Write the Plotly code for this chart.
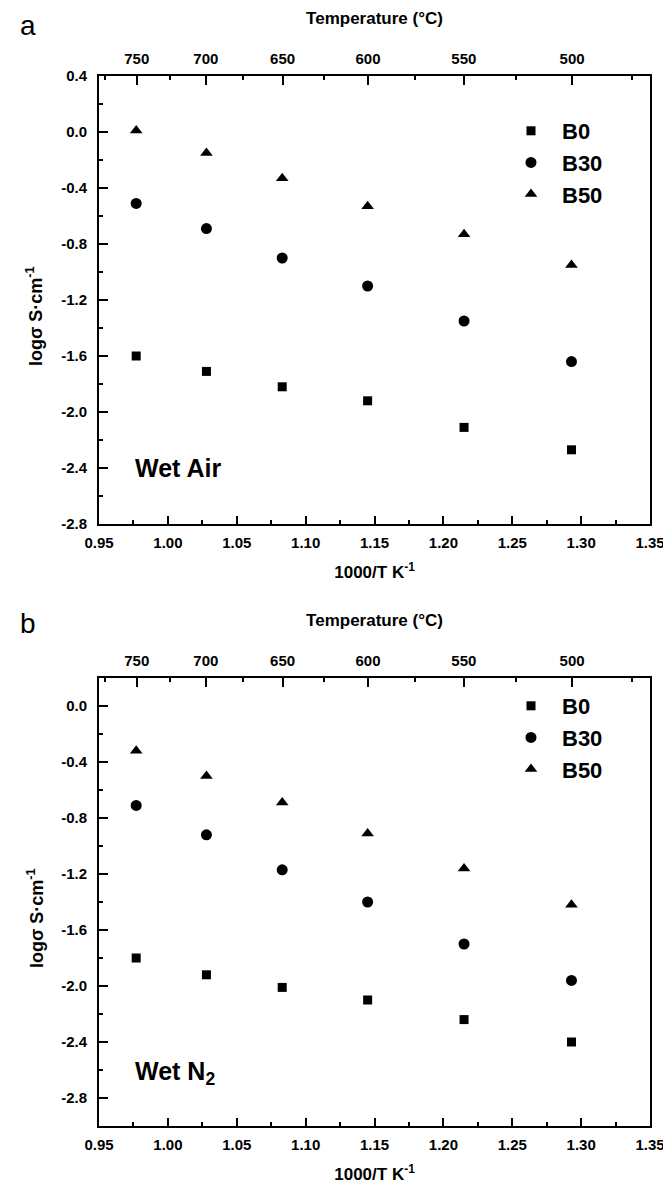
import plotly.graph_objects as go

# ---------------- data ----------------
inv_T = [0.977, 1.028, 1.083, 1.145, 1.215, 1.293]  # 1000/T (K^-1)

air_B0 = [-1.60, -1.71, -1.82, -1.92, -2.11, -2.27]
air_B30 = [-0.51, -0.69, -0.90, -1.10, -1.35, -1.64]
air_B50 = [0.01, -0.15, -0.33, -0.53, -0.73, -0.95]

n2_B0 = [-1.80, -1.92, -2.01, -2.10, -2.24, -2.40]
n2_B30 = [-0.71, -0.92, -1.17, -1.40, -1.70, -1.96]
n2_B50 = [-0.32, -0.50, -0.69, -0.91, -1.16, -1.42]

series_names = ["B0", "B30", "B50"]
temp_major = [750, 700, 650, 600, 550, 500]
temp_minor = [775, 725, 675, 625, 575, 525, 475]

# ---------------- layout helpers ----------------
W, H = 671, 1182
FONT = "Liberation Sans, Arial, sans-serif"
X0, X1 = 91, 642
def fx(px):
    return px / W
def fy(py):
    return 1 - py / H

top_pos = [1000.0 / (t + 273.15) for t in temp_major]
top_minor_pos = [1000.0 / (t + 273.15) for t in temp_minor]

symbols = ["square", "circle", "triangle-up"]
sizes = [9, 11, 11]

fig = go.Figure()

panels = [
    (air_B0, air_B30, air_B50, "x", "y", "legend"),
    (n2_B0, n2_B30, n2_B50, "x2", "y2", "legend2"),
]
for (b0, b30, b50, xa, ya, lg) in panels:
    for name, ys, sym, sz in zip(series_names, [b0, b30, b50], symbols, sizes):
        fig.add_trace(go.Scatter(
            x=inv_T, y=ys, mode="markers", name=name, xaxis=xa, yaxis=ya,
            legend=lg,
            marker=dict(symbol=sym, size=sz, color="black"),
        ))

# invisible traces to carry the temperature (top) axes
fig.add_trace(go.Scatter(x=inv_T, y=air_B0, xaxis="x3", yaxis="y", mode="markers",
                         marker=dict(opacity=0), showlegend=False, hoverinfo="skip"))
fig.add_trace(go.Scatter(x=inv_T, y=n2_B0, xaxis="x4", yaxis="y2", mode="markers",
                         marker=dict(opacity=0), showlegend=False, hoverinfo="skip"))

tickfont = dict(family=FONT, size=15, color="black", weight="bold")
titlefont = dict(family=FONT, size=17, color="black", weight="bold")

def xbottom(domain_anchor):
    return dict(
        domain=[fx(X0), fx(X1)], anchor=domain_anchor, range=[0.95, 1.35],
        tickmode="array", tickvals=[0.95, 1.00, 1.05, 1.10, 1.15, 1.20, 1.25, 1.30, 1.35],
        ticktext=["0.95", "1.00", "1.05", "1.10", "1.15", "1.20", "1.25", "1.30", "1.35"],
        ticks="inside", ticklen=8, tickwidth=1.5, tickcolor="black",
        minor=dict(tickvals=[0.975, 1.025, 1.075, 1.125, 1.175, 1.225, 1.275, 1.325],
                   ticks="inside", ticklen=4, tickwidth=1.5, tickcolor="black"),
        showline=True, linewidth=2, linecolor="black", mirror=True,
        showgrid=False, zeroline=False, tickfont=tickfont, ticklabelstandoff=4,
        title=dict(text="1000/T K<sup>-1</sup>", font=titlefont, standoff=16),
        automargin=False,
    )

def xtop(overlay, anchor):
    return dict(
        overlaying=overlay, anchor=anchor, side="top", range=[0.95, 1.35],
        tickmode="array", tickvals=top_pos, ticktext=[str(t) for t in temp_major],
        ticks="inside", ticklen=9, tickwidth=1.5, tickcolor="black",
        minor=dict(tickvals=top_minor_pos, ticks="inside", ticklen=4, tickwidth=1.5,
                   tickcolor="black"),
        showline=True, linewidth=2, linecolor="black",
        showgrid=False, zeroline=False, tickfont=tickfont, ticklabelstandoff=4,
        title=dict(text="Temperature (°C)", font=titlefont, standoff=21),
        automargin=False,
    )

def yaxis(domain, rng, anchor, dtick_vals):
    return dict(
        domain=domain, anchor=anchor, range=rng,
        tickmode="array", tickvals=dtick_vals,
        ticktext=["%.1f" % v if abs(v) > 1e-9 else "0.0" for v in dtick_vals],
        ticks="inside", ticklen=9, tickwidth=1.5, tickcolor="black",
        minor=dict(dtick=0.2, tick0=0, ticks="inside", ticklen=4, tickwidth=1.5,
                   tickcolor="black"),
        showline=True, linewidth=2, linecolor="black", mirror=True,
        showgrid=False, zeroline=False, tickfont=tickfont, ticklabelstandoff=7,
        automargin=False,
    )

legend_common = dict(
    font=dict(family=FONT, size=22, color="black", weight="bold"),
    bgcolor="rgba(0,0,0,0)", itemwidth=52, xanchor="left", yanchor="top",
    tracegroupgap=0, itemclick=False,
)

ytitle = "logσ S·cm<sup>-1</sup>"
ytitle_font = dict(family=FONT, size=18, color="black", weight="bold")

fig.update_layout(
    width=W, height=H,
    margin=dict(l=0, r=0, t=0, b=0),
    plot_bgcolor="white", paper_bgcolor="white",
    xaxis=xbottom("y"),
    xaxis2=xbottom("y2"),
    xaxis3=xtop("x", "y"),
    xaxis4=xtop("x2", "y2"),
    yaxis=yaxis([fy(516), fy(68)], [-2.8, 0.4], "x",
                [0.4, 0.0, -0.4, -0.8, -1.2, -1.6, -2.0, -2.4, -2.8]),
    yaxis2=yaxis([fy(1118), fy(670)], [-3.0, 0.2], "x2",
                 [0.0, -0.4, -0.8, -1.2, -1.6, -2.0, -2.4, -2.8]),
    legend=dict(x=fx(492), y=fy(102), **legend_common),
    legend2=dict(x=fx(492), y=fy(677), **legend_common),
    showlegend=True,
    annotations=[
        dict(text="a", x=fx(10), y=fy(0), xref="paper", yref="paper", showarrow=False,
             xanchor="left", yanchor="top", font=dict(family=FONT, size=28, color="black")),
        dict(text="b", x=fx(10), y=fy(598), xref="paper", yref="paper", showarrow=False,
             xanchor="left", yanchor="top", font=dict(family=FONT, size=28, color="black")),
        dict(text=ytitle, x=fx(27), y=fy(308), xref="paper", yref="paper", showarrow=False,
             textangle=-90, xanchor="center", yanchor="middle", font=ytitle_font),
        dict(text=ytitle, x=fx(27), y=fy(910), xref="paper", yref="paper", showarrow=False,
             textangle=-90, xanchor="center", yanchor="middle", font=ytitle_font),
        dict(text="Wet Air", x=0.975, y=-2.40, xref="x", yref="y", showarrow=False,
             xanchor="left", yanchor="middle",
             font=dict(family=FONT, size=25, color="black", weight="bold")),
        dict(text="Wet N<sub>2</sub>", x=0.975, y=-2.62, xref="x2", yref="y2", showarrow=False,
             xanchor="left", yanchor="middle",
             font=dict(family=FONT, size=25, color="black", weight="bold")),
    ],
)

fig.write_html("out.html")
